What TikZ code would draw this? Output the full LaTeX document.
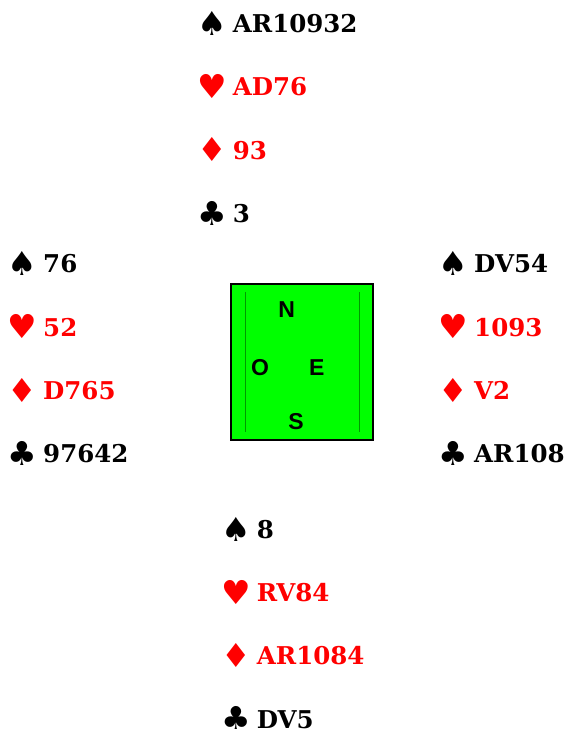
\documentclass[tikz,border=0pt]{standalone}
\usepackage{fontspec}
\newfontfamily\cardfont{DejaVu Serif}
\newfontfamily\suitfont{DejaVu Sans}
\newfontfamily\compassfont{Liberation Sans}
\usetikzlibrary{positioning}
\definecolor{suitred}{HTML}{FF0000}
\definecolor{boardgreen}{HTML}{00FF00}
\definecolor{linegreen}{HTML}{009A00}
\newcommand{\suitsym}[1]{\makebox[24pt][c]{\raisebox{-2.8pt}{\suitfont\fontsize{33}{33}\selectfont #1}}\hspace{9pt}}
\newcommand{\spd}{\suitsym{♠}}
\newcommand{\hrt}{\suitsym{♥}}
\newcommand{\dmd}{\suitsym{♦}}
\newcommand{\clb}{\suitsym{♣}}

\begin{document}
\begin{tikzpicture}[
  x=1pt,y=-1pt,
  node distance=40.9pt,
  hand/.style={inner sep=0pt,text height=18pt,text depth=4pt,anchor=north west,
    font=\cardfont\bfseries\fontsize{24.5}{24.5}\selectfont},
  redhand/.style={hand,text=suitred},
  board/.style={draw,line width=2pt,fill=boardgreen,minimum width=142pt,
    minimum height=156pt,inner sep=0pt},
  compass/.style={inner sep=0pt,font=\compassfont\bfseries\fontsize{23}{23}\selectfont},
  rule/.style={draw=linegreen,line width=0.6pt}
]
\useasboundingbox (0,0) rectangle (566,729);
% north
\node[hand] (ns) at (199.7,14.3) {\spd AR10932};
\node[redhand,below=of ns.south west,anchor=north west] (nh) {\hrt AD76};
\node[redhand,below=of nh.south west,anchor=north west] (nd) {\dmd 93};
\node[hand,below=of nd.south west,anchor=north west] (nc) {\clb 3};
% west
\node[hand] (ws) at (10,254.5) {\spd 76};
\node[redhand,below=of ws.south west,anchor=north west] (wh) {\hrt 52};
\node[redhand,below=of wh.south west,anchor=north west] (wd) {\dmd D765};
\node[hand,below=of wd.south west,anchor=north west] (wc) {\clb 97642};
% east
\node[hand] (es) at (441,254.5) {\spd DV54};
\node[redhand,below=of es.south west,anchor=north west] (eh) {\hrt 1093};
\node[redhand,below=of eh.south west,anchor=north west] (ed) {\dmd V2};
\node[hand,below=of ed.south west,anchor=north west] (ec) {\clb AR108};
% south
\node[hand] (ss) at (223.7,520) {\spd 8};
\node[redhand,below=of ss.south west,anchor=north west] (sh) {\hrt RV84};
\node[redhand,below=of sh.south west,anchor=north west] (sd) {\dmd AR1084};
\node[hand,below=of sd.south west,anchor=north west] (sc) {\clb DV5};
% table
\node[board] (board) at (302,362) {};
\draw[rule] ([shift={(15.7,9)}]board.north west) -- ([shift={(15.7,-9.3)}]board.south west);
\draw[rule] ([shift={(-14.7,9)}]board.north east) -- ([shift={(-14.7,-9.3)}]board.south east);
\node[compass] (north) at (286.7,309.7) {N};
\node[compass] (west) at (260,367.7) {O};
\node[compass] (east) at (316.7,367.7) {E};
\node[compass] (south) at (296,421.7) {S};
\end{tikzpicture}
\end{document}
